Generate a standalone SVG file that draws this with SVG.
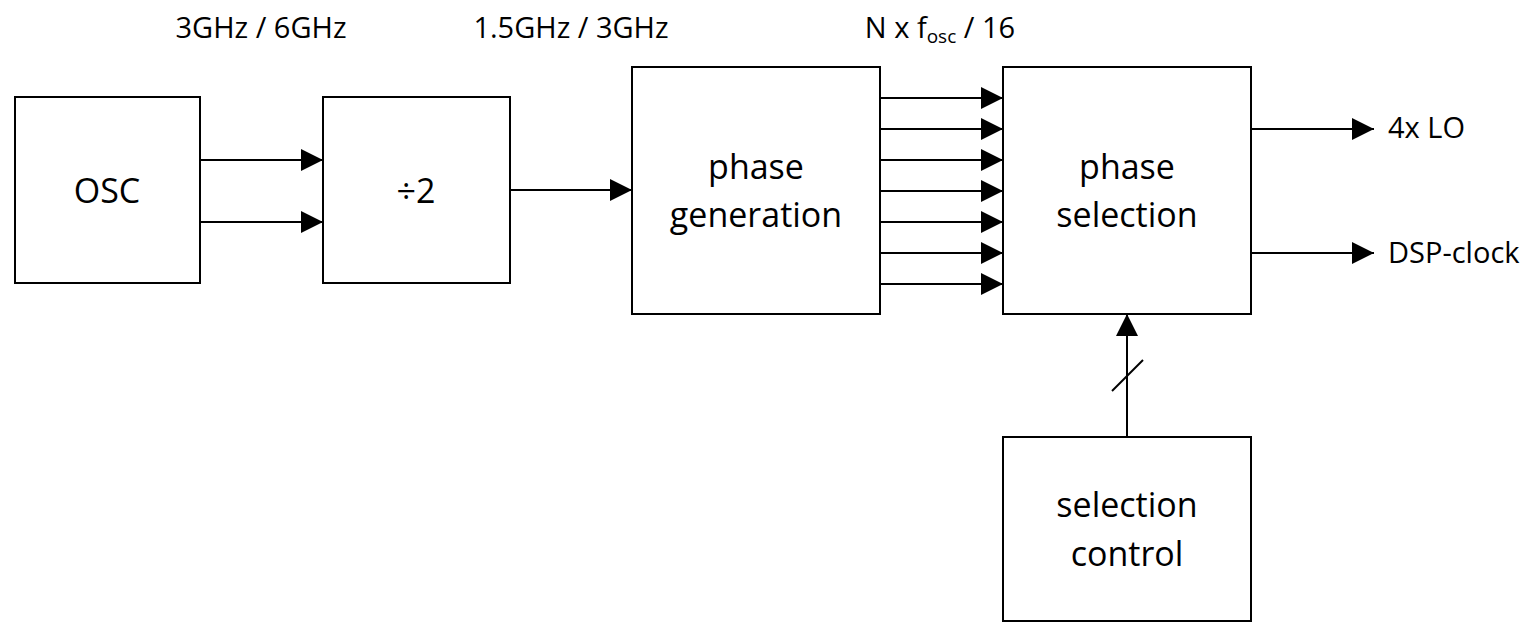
<svg xmlns="http://www.w3.org/2000/svg" width="1533" height="624" viewBox="0 0 1533 624">
  <style>
    .box { fill: #fff; stroke: #000; stroke-width: 2; }
    .wire { fill: none; stroke: #000; stroke-width: 2; }
    .lbl { font-family: "Open Sans", "Liberation Sans", sans-serif; font-size: 34px; fill: #000; text-anchor: middle; }
    .cap { font-family: "Open Sans", "Liberation Sans", sans-serif; font-size: 29px; fill: #000; }
  </style>
  <defs>
    <marker id="arrow" markerUnits="userSpaceOnUse" markerWidth="22" markerHeight="22" viewBox="0 0 20 20" refX="20" refY="10" orient="auto">
      <path d="M0,0 L20,10 L0,20 z" fill="#000"/>
    </marker>
  </defs>
  <rect width="1533" height="624" fill="#fff"/>

  <!-- frequency annotations -->
  <text class="cap" x="261" y="38" text-anchor="middle">3GHz / 6GHz</text>
  <text class="cap" x="571" y="38" text-anchor="middle">1.5GHz / 3GHz</text>
  <text class="cap" x="940" y="38" text-anchor="middle">N x f<tspan font-size="19" dy="5">osc</tspan><tspan dy="-5"> / 16</tspan></text>

  <g id="osc">
    <rect class="box" x="15" y="97" width="185" height="186"/>
    <text class="lbl" x="107" y="203">OSC</text>
  </g>
  <g id="div2">
    <rect class="box" x="323" y="97" width="187" height="186"/>
    <text class="lbl" x="416" y="203">÷2</text>
  </g>
  <g id="phase-generation">
    <rect class="box" x="632" y="67" width="248" height="247"/>
    <text class="lbl" x="756" y="179">phase</text>
    <text class="lbl" x="756" y="227">generation</text>
  </g>
  <g id="phase-selection">
    <rect class="box" x="1003" y="67" width="248" height="247"/>
    <text class="lbl" x="1127" y="179">phase</text>
    <text class="lbl" x="1127" y="227">selection</text>
  </g>
  <g id="selection-control">
    <rect class="box" x="1003" y="437" width="248" height="184"/>
    <text class="lbl" x="1127" y="517">selection</text>
    <text class="lbl" x="1127" y="566">control</text>
  </g>

  <g id="connectors">
    <path class="wire" d="M200,160 H323" marker-end="url(#arrow)"/>
    <path class="wire" d="M200,222 H323" marker-end="url(#arrow)"/>
    <path class="wire" d="M510,190 H632" marker-end="url(#arrow)"/>
    <path class="wire" d="M880,98 H1003" marker-end="url(#arrow)"/>
    <path class="wire" d="M880,129 H1003" marker-end="url(#arrow)"/>
    <path class="wire" d="M880,160 H1003" marker-end="url(#arrow)"/>
    <path class="wire" d="M880,191 H1003" marker-end="url(#arrow)"/>
    <path class="wire" d="M880,222 H1003" marker-end="url(#arrow)"/>
    <path class="wire" d="M880,253 H1003" marker-end="url(#arrow)"/>
    <path class="wire" d="M880,284 H1003" marker-end="url(#arrow)"/>
    <path class="wire" d="M1251,129 H1374" marker-end="url(#arrow)"/>
    <path class="wire" d="M1251,253 H1374" marker-end="url(#arrow)"/>
    <path class="wire" d="M1127,437 V314" marker-end="url(#arrow)"/>
    <!-- bus slash -->
    <path class="wire" d="M1112,391 L1143,360"/>
  </g>

  <text class="cap" x="1388" y="138">4x LO</text>
  <text class="cap" x="1388" y="263">DSP-clock</text>
</svg>
